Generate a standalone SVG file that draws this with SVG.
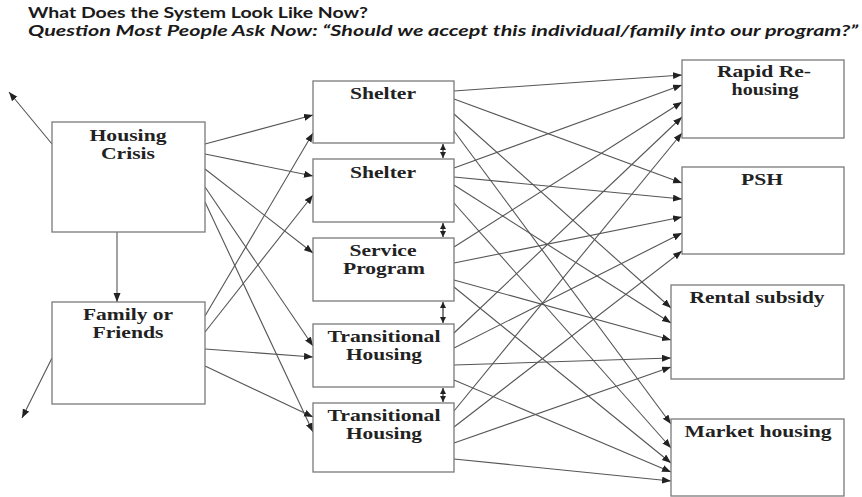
<svg xmlns="http://www.w3.org/2000/svg" width="862" height="497" viewBox="0 0 862 497">
<style>
.box{fill:#fff;stroke:#7a7a7a;stroke-width:1.3}
.lbl{font-family:"Liberation Serif","Times New Roman",serif;font-weight:bold;font-size:16px;fill:#222;text-anchor:middle}
.ttl{font-family:Lato,"Open Sans","Liberation Sans",sans-serif;font-weight:bold;font-size:14.5px;fill:#1a1a1a}
.c line{stroke:#555;stroke-width:1.1;marker-end:url(#ah)}
.dbl line{stroke:#333;stroke-width:1.2;marker-end:url(#sh);marker-start:url(#sh)}
</style>
<defs>
<marker id="ah" markerUnits="userSpaceOnUse" markerWidth="10" markerHeight="8" refX="9" refY="3.5" orient="auto"><path d="M0,0 L9,3.5 L0,7 z" fill="#222"/></marker>
<marker id="sh" markerUnits="userSpaceOnUse" markerWidth="8" markerHeight="8" refX="6" refY="3" orient="auto-start-reverse"><path d="M0,0 L6,3 L0,6 z" fill="#222"/></marker>
</defs>
<rect width="862" height="497" fill="#fff"/>
<g id="title">
<text class="ttl" x="28" y="18" textLength="340" lengthAdjust="spacingAndGlyphs">What Does the System Look Like Now?</text>
<text class="ttl" x="28" y="36" font-style="italic" textLength="830" lengthAdjust="spacingAndGlyphs">Question Most People Ask Now: “Should we accept this individual/family into our program?”</text>
</g>
<g id="connectors">
<g class="c">
<line x1="52" y1="144" x2="9" y2="92"/>
<line x1="52" y1="358" x2="22" y2="418"/>
<line x1="117" y1="232" x2="117" y2="302"/>
<line x1="205" y1="144" x2="313" y2="115"/>
<line x1="205" y1="154" x2="313" y2="176"/>
<line x1="205" y1="169" x2="313" y2="253"/>
<line x1="205" y1="187" x2="313" y2="346"/>
<line x1="205" y1="202" x2="313" y2="432"/>
<line x1="205" y1="316" x2="313" y2="133"/>
<line x1="205" y1="332" x2="313" y2="195"/>
<line x1="205" y1="349" x2="313" y2="357"/>
<line x1="205" y1="366" x2="313" y2="417"/>
<line x1="454" y1="91" x2="682" y2="75"/>
<line x1="454" y1="99" x2="682" y2="183"/>
<line x1="454" y1="114" x2="671" y2="308"/>
<line x1="454" y1="131" x2="671" y2="424"/>
<line x1="454" y1="168" x2="682" y2="85"/>
<line x1="454" y1="177" x2="682" y2="199"/>
<line x1="454" y1="185" x2="671" y2="323"/>
<line x1="454" y1="203" x2="671" y2="448"/>
<line x1="454" y1="247" x2="682" y2="102"/>
<line x1="454" y1="263" x2="682" y2="217"/>
<line x1="454" y1="280" x2="671" y2="340"/>
<line x1="454" y1="287" x2="671" y2="463"/>
<line x1="454" y1="333" x2="682" y2="117"/>
<line x1="454" y1="348" x2="682" y2="233"/>
<line x1="454" y1="365" x2="671" y2="358"/>
<line x1="454" y1="380" x2="671" y2="472"/>
<line x1="454" y1="411" x2="682" y2="133"/>
<line x1="454" y1="427" x2="682" y2="251"/>
<line x1="454" y1="443" x2="671" y2="367"/>
<line x1="454" y1="459" x2="671" y2="481"/>
</g>
<g class="dbl">
<line x1="443" y1="144" x2="443" y2="158"/>
<line x1="443" y1="223" x2="443" y2="237"/>
<line x1="443" y1="302" x2="443" y2="323"/>
<line x1="443" y1="388" x2="443" y2="402"/>
</g>
</g>
<g id="housing-crisis">
<rect class="box" x="52" y="122" width="153" height="110"/>
<text class="lbl" x="128" y="141" textLength="77" lengthAdjust="spacingAndGlyphs">Housing</text>
<text class="lbl" x="128" y="159" textLength="54" lengthAdjust="spacingAndGlyphs">Crisis</text>
</g>
<g id="family-friends">
<rect class="box" x="52" y="302" width="153" height="102"/>
<text class="lbl" x="128" y="320" textLength="90" lengthAdjust="spacingAndGlyphs">Family or</text>
<text class="lbl" x="128" y="338" textLength="71" lengthAdjust="spacingAndGlyphs">Friends</text>
</g>
<g id="shelter-1">
<rect class="box" x="313" y="81" width="141" height="62"/>
<text class="lbl" x="383" y="99" textLength="66" lengthAdjust="spacingAndGlyphs">Shelter</text>
</g>
<g id="shelter-2">
<rect class="box" x="313" y="159" width="141" height="63"/>
<text class="lbl" x="383" y="178" textLength="66" lengthAdjust="spacingAndGlyphs">Shelter</text>
</g>
<g id="service-program">
<rect class="box" x="313" y="238" width="141" height="63"/>
<text class="lbl" x="383" y="256" textLength="67" lengthAdjust="spacingAndGlyphs">Service</text>
<text class="lbl" x="384" y="274" textLength="82" lengthAdjust="spacingAndGlyphs">Program</text>
</g>
<g id="transitional-1">
<rect class="box" x="313" y="324" width="141" height="63"/>
<text class="lbl" x="384" y="342" textLength="113" lengthAdjust="spacingAndGlyphs">Transitional</text>
<text class="lbl" x="384" y="360" textLength="76" lengthAdjust="spacingAndGlyphs">Housing</text>
</g>
<g id="transitional-2">
<rect class="box" x="313" y="403" width="141" height="69"/>
<text class="lbl" x="384" y="421" textLength="113" lengthAdjust="spacingAndGlyphs">Transitional</text>
<text class="lbl" x="384" y="439" textLength="76" lengthAdjust="spacingAndGlyphs">Housing</text>
</g>
<g id="rapid-rehousing">
<rect class="box" x="682" y="60" width="162" height="78"/>
<text class="lbl" x="764" y="77" textLength="94" lengthAdjust="spacingAndGlyphs">Rapid Re-</text>
<text class="lbl" x="765" y="95" textLength="67" lengthAdjust="spacingAndGlyphs">housing</text>
</g>
<g id="psh">
<rect class="box" x="682" y="167" width="162" height="87"/>
<text class="lbl" x="762" y="185" textLength="42" lengthAdjust="spacingAndGlyphs">PSH</text>
</g>
<g id="rental-subsidy">
<rect class="box" x="671" y="285" width="173" height="94"/>
<text class="lbl" x="757" y="303" textLength="135" lengthAdjust="spacingAndGlyphs">Rental subsidy</text>
</g>
<g id="market-housing">
<rect class="box" x="671" y="419" width="173" height="77"/>
<text class="lbl" x="758" y="437" textLength="147" lengthAdjust="spacingAndGlyphs">Market housing</text>
</g>
</svg>
